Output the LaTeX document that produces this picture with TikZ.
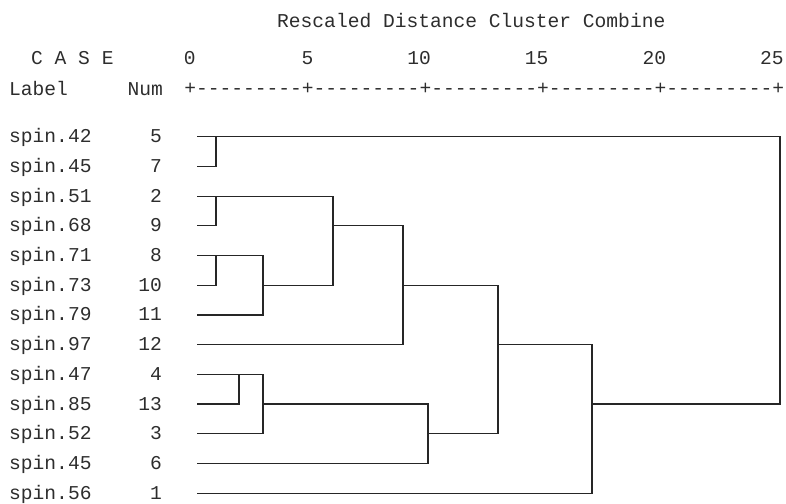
\documentclass[tikz,border=0pt]{standalone}
\usepackage{fontspec}
\setmonofont{Liberation Mono}
\usetikzlibrary{positioning}
\definecolor{inkSPSS}{RGB}{45,45,45}
\colorlet{TreeLine}{black!85}

\begin{document}
\begin{tikzpicture}[x=1pt,y=-1pt,
    txt/.style={font=\ttfamily\fontsize{19.6}{22}\selectfont,text=inkSPSS,inner sep=0pt},
    tree/.style={line width=1.2pt,draw=TreeLine}
  ]
  \useasboundingbox (0,0) rectangle (786,503);
  % header
  \node[txt,anchor=base west] (title) at (277,28) {Rescaled Distance Cluster Combine};
  \node[txt,anchor=base west] (case) at (31,64) {C A S E};
  \node[txt,anchor=base west] (label) at (9,95) {Label};
  \node[txt,anchor=base east] (num) at (163,95) {Num};
  \node[txt,anchor=base west] (axis) at (184.1,94) {+---------+---------+---------+---------+---------+};
  \foreach \v/\x in {0/190,5/307.6,10/425.2,15/542.8,20/660.4,25/778}
    \node[txt,anchor=base east] (t\v) at ({\x+5.88},64) {\v};
  % cases
  \foreach \i/\lab/\n in {0/42/5,1/45/7,2/51/2,3/68/9,4/71/8,5/73/10,6/79/11,
                          7/97/12,8/47/4,9/85/13,10/52/3,11/45/6,12/56/1} {
    \node[txt,anchor=base west] (lab\n) at (9,{136.7+29.7*\i+6}) {spin.\lab};
    \node[txt,anchor=base east] (num\n) at (162,{136.7+29.7*\i+6}) {\n};
    \coordinate (c\n) at (197,{136.7+29.7*\i});
  }
  % joins
  \coordinate (m57) at (216,136.7);
  \coordinate (m29) at (216,196.1);
  \coordinate (m810) at (216,255.5);
  \coordinate (m811) at (263,285.2);
  \coordinate (m211) at (333,225.8);
  \coordinate (m212) at (403,285.2);
  \coordinate (m413) at (239,374.3);
  \coordinate (m43) at (263,404.0);
  \coordinate (m46) at (428,433.7);
  \coordinate (mab) at (498,344.6);
  \coordinate (mab1) at (592,404.0);
  \coordinate (mall) at (780,136.7);
  \draw[tree] (c5) -| (m57) |- (c7);
  \draw[tree] (c2) -| (m29) |- (c9);
  \draw[tree] (c8) -| (m810) |- (c10);
  \draw[tree] (m810) -| (m811) |- (c11);
  \draw[tree] (m29) -| (m211) |- (m811);
  \draw[tree] (m211) -| (m212) |- (c12);
  \draw[tree] (c4) -| (m413) |- (c13);
  \draw[tree] (m413) -| (m43) |- (c3);
  \draw[tree] (m43) -| (m46) |- (c6);
  \draw[tree] (m212) -| (mab) |- (m46);
  \draw[tree] (mab) -| (mab1) |- (c1);
  \draw[tree] (m57) -| (mall) |- (mab1);
\end{tikzpicture}
\end{document}
